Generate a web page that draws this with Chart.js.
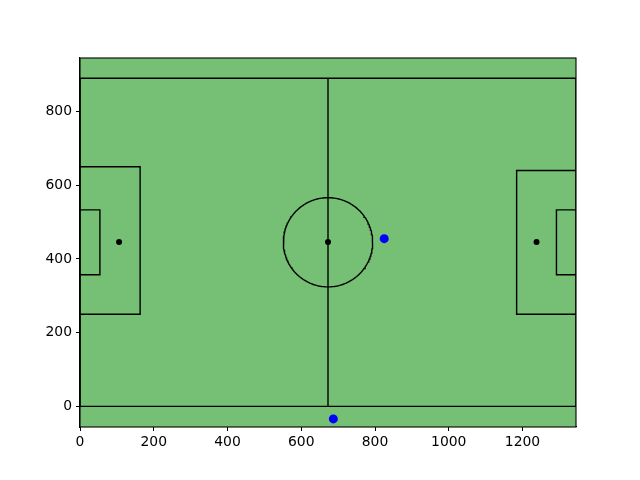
<!DOCTYPE html>
<html>
<head>
<meta charset="utf-8">
<script src="https://cdn.jsdelivr.net/npm/chart.js@4/dist/chart.umd.min.js"></script>
<style>
html,body{margin:0;padding:0;background:#fff;}
canvas{display:block;}
</style>
</head>
<body>
<canvas id="c" width="640" height="480"></canvas>
<script>
// ---- data ----
const xLimits = [0, 1345];
const yLimits = [-56, 945];
const xTicks = [0, 200, 400, 600, 800, 1000, 1200];
const yTicks = [0, 200, 400, 600, 800];

const outlineX = [0, 1345, 1345, 0, 0];
const outlineY = [0, 0, 890, 890, 0];
const halfwayX = [672.5, 672.5];
const halfwayY = [0, 890];
const leftBoxX = [0, 163, 163, 0];
const leftBoxY = [250, 250, 650, 650];
const leftSixX = [0, 54, 54, 0];
const leftSixY = [357, 357, 533, 533];
const rightBoxX = [1345, 1184, 1184, 1345];
const rightBoxY = [250, 250, 640, 640];
const rightSixX = [1345, 1292, 1292, 1345];
const rightSixY = [357, 357, 533, 533];
const circleCenter = [672.5, 445];
const circleRadius = [121];
const spotX = [106, 672.5, 1238];
const spotY = [446, 446, 446];
const playerX = [825, 687];
const playerY = [455, -34];

// ---- helpers ----
const zip = (xs, ys) => xs.map((x, i) => ({x: x, y: ys[i]}));
const circlePts = [];
for (let i = 0; i <= 180; i++) {
  const a = i / 180 * 2 * Math.PI;
  circlePts.push({x: circleCenter[0] + circleRadius[0] * Math.cos(a), y: circleCenter[1] + circleRadius[0] * Math.sin(a)});
}
const lineDs = (pts) => ({
  data: pts, showLine: true, borderColor: '#000', borderWidth: 1.4,
  pointRadius: 0, pointHoverRadius: 0, tension: 0, fill: false, order: 3
});

const bgPlugin = {
  id: 'bg',
  beforeDatasetsDraw(chart) {
    const {ctx, chartArea: a} = chart;
    ctx.save();
    ctx.fillStyle = 'rgb(117,192,117)';
    ctx.fillRect(a.left, a.top, a.right - a.left, a.bottom - a.top);
    ctx.restore();
  },
  afterDatasetsDraw(chart) {
    const {ctx, chartArea: a} = chart;
    ctx.save();
    ctx.strokeStyle = '#000';
    ctx.lineWidth = 1.1;
    ctx.strokeRect(a.left, a.top, a.right - a.left, a.bottom - a.top);
    ctx.restore();
  }
};

const font = {family: 'DejaVu Sans', size: 13.9};

new Chart(document.getElementById('c'), {
  type: 'scatter',
  data: {
    datasets: [
      lineDs(zip(outlineX, outlineY)),
      lineDs(zip(halfwayX, halfwayY)),
      lineDs(zip(leftBoxX, leftBoxY)),
      lineDs(zip(leftSixX, leftSixY)),
      lineDs(zip(rightBoxX, rightBoxY)),
      lineDs(zip(rightSixX, rightSixY)),
      lineDs(circlePts),
      {data: zip(spotX, spotY), pointRadius: 3, pointBackgroundColor: '#000', pointBorderWidth: 0, showLine: false, order: 2},
      {data: zip(playerX, playerY), pointRadius: 4.5, pointBackgroundColor: '#0000ff', pointBorderWidth: 0, showLine: false, order: 1}
    ]
  },
  options: {
    responsive: false,
    animation: false,
    events: [],
    layout: {padding: {left: 0, right: 64, top: 58, bottom: 0}},
    plugins: {legend: {display: false}, tooltip: {enabled: false}},
    scales: {
      x: {
        type: 'linear', min: xLimits[0], max: xLimits[1],
        afterBuildTicks: s => { s.ticks = xTicks.map(v => ({value: v})); },
        afterFit: s => { s.height = 53; },
        grid: {drawOnChartArea: false, tickLength: 4, color: '#000', tickWidth: 1},
        border: {display: true, color: '#000', width: 1.1},
        ticks: {color: '#000', font: font, padding: 3, maxRotation: 0, autoSkip: false, callback: v => String(v)}
      },
      y: {
        type: 'linear', min: yLimits[0], max: yLimits[1],
        afterBuildTicks: s => { s.ticks = yTicks.map(v => ({value: v})); },
        afterFit: s => { s.width = 80; },
        grid: {drawOnChartArea: false, tickLength: 4, color: '#000', tickWidth: 1},
        border: {display: true, color: '#000', width: 1.1},
        ticks: {color: '#000', font: font, padding: 4, autoSkip: false, callback: v => String(v)}
      }
    }
  },
  plugins: [bgPlugin]
});
</script>
</body>
</html>
